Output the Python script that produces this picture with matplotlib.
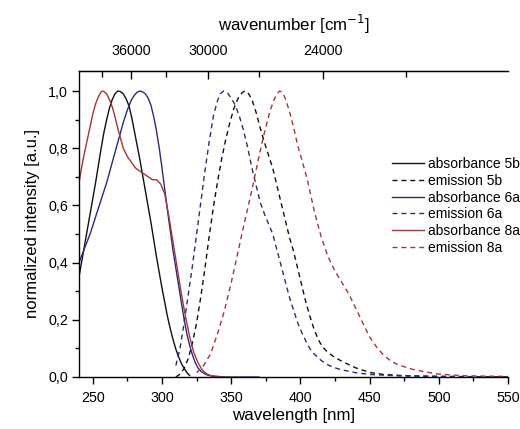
import matplotlib
matplotlib.use("Agg")
import matplotlib.pyplot as plt
from matplotlib.ticker import FixedLocator, MultipleLocator, FuncFormatter

plt.rcParams['font.family'] = ['Liberation Sans', 'DejaVu Sans']
plt.rcParams['lines.scale_dashes'] = False

# absorbance 5b (black solid)
abs5b_x = [240, 242, 244, 246, 248, 250, 252, 254, 256, 258, 260, 262, 264, 266, 268, 270, 272, 274, 276, 278, 280, 282, 284, 286, 288, 290, 292, 294, 296, 298, 300, 302, 304, 306, 308, 310, 312, 314, 316, 318, 320]
abs5b_y = [0.35, 0.405, 0.46, 0.515, 0.57, 0.625, 0.68, 0.74, 0.80, 0.855, 0.90, 0.94, 0.97, 0.99, 1.0, 0.998, 0.99, 0.973, 0.95, 0.91, 0.86, 0.81, 0.76, 0.705, 0.65, 0.595, 0.54, 0.48, 0.42, 0.365, 0.31, 0.26, 0.21, 0.168, 0.13, 0.097, 0.07, 0.047, 0.03, 0.015, 0.005]

# emission 5b (black dashed)
em5b_x = [310, 313, 316, 319, 322, 325, 328, 331, 334, 337, 340, 343, 346, 349, 352, 355, 358, 360, 362, 365, 368, 371, 374, 377, 380, 383, 386, 389, 392, 395, 398, 401, 404, 407, 410, 413, 416, 420, 425, 430, 435, 440, 450, 460, 470, 480, 500, 550]
em5b_y = [0.0, 0.01, 0.03, 0.065, 0.12, 0.19, 0.28, 0.38, 0.49, 0.59, 0.68, 0.76, 0.83, 0.89, 0.94, 0.975, 0.995, 1.0, 0.995, 0.97, 0.925, 0.87, 0.82, 0.775, 0.73, 0.67, 0.61, 0.55, 0.49, 0.44, 0.38, 0.32, 0.26, 0.21, 0.165, 0.13, 0.105, 0.085, 0.068, 0.055, 0.043, 0.032, 0.016, 0.009, 0.006, 0.004, 0.002, 0.0]

# absorbance 6a (blue solid)
abs6a_x = [240, 244, 248, 252, 256, 260, 264, 268, 272, 275, 278, 280, 282, 284, 286, 288, 290, 292, 294, 296, 298, 300, 302, 304, 306, 308, 310, 312, 314, 316, 318, 320, 322, 324, 326, 328, 332, 336, 345, 370]
abs6a_y = [0.40, 0.45, 0.50, 0.56, 0.62, 0.68, 0.75, 0.82, 0.89, 0.935, 0.97, 0.985, 0.996, 1.0, 0.997, 0.99, 0.975, 0.95, 0.91, 0.86, 0.80, 0.73, 0.655, 0.58, 0.51, 0.44, 0.38, 0.32, 0.26, 0.20, 0.15, 0.11, 0.077, 0.05, 0.032, 0.02, 0.008, 0.003, 0.0, 0.0]

# emission 6a (blue dashed)
em6a_x = [310, 313, 316, 319, 322, 325, 328, 331, 334, 337, 340, 342, 344.5, 347, 350, 353, 356, 359, 362, 365, 368, 371, 374, 377, 380, 383, 386, 389, 392, 395, 398, 401, 404, 407, 410, 415, 420, 425, 430, 440, 450, 470, 500, 550]
em6a_y = [0.04, 0.10, 0.19, 0.29, 0.39, 0.50, 0.61, 0.72, 0.82, 0.91, 0.965, 0.99, 1.0, 0.995, 0.975, 0.95, 0.91, 0.86, 0.80, 0.73, 0.67, 0.61, 0.57, 0.535, 0.50, 0.445, 0.39, 0.335, 0.28, 0.235, 0.19, 0.155, 0.125, 0.098, 0.08, 0.058, 0.042, 0.032, 0.025, 0.015, 0.009, 0.004, 0.002, 0.0]

# absorbance 8a (red solid)
abs8a_x = [240, 242, 244, 246, 248, 250, 252, 254, 256, 257, 258, 260, 262, 264, 266, 268, 270, 272, 275, 278, 281, 284, 287, 290, 293, 296, 299, 302, 305, 308, 311, 314, 317, 320, 323, 326, 329, 332, 335, 340, 345]
abs8a_y = [0.68, 0.735, 0.785, 0.83, 0.875, 0.92, 0.955, 0.98, 0.997, 1.0, 0.998, 0.99, 0.97, 0.945, 0.91, 0.87, 0.835, 0.80, 0.77, 0.75, 0.73, 0.72, 0.71, 0.70, 0.69, 0.69, 0.675, 0.64, 0.56, 0.47, 0.38, 0.29, 0.21, 0.14, 0.085, 0.05, 0.025, 0.012, 0.005, 0.002, 0.0]

# emission 8a (red dashed)
em8a_x = [325, 330, 335, 340, 345, 350, 355, 360, 365, 370, 374, 378, 381, 383, 385, 387, 389, 392, 395, 398, 401, 405, 410, 415, 420, 425, 430, 435, 440, 445, 450, 455, 460, 465, 470, 480, 490, 500, 520, 550]
em8a_y = [0.015, 0.04, 0.08, 0.15, 0.23, 0.33, 0.44, 0.55, 0.655, 0.77, 0.855, 0.93, 0.97, 0.99, 1.0, 0.995, 0.975, 0.93, 0.875, 0.81, 0.76, 0.69, 0.58, 0.49, 0.42, 0.37, 0.33, 0.29, 0.24, 0.19, 0.14, 0.105, 0.077, 0.057, 0.044, 0.028, 0.018, 0.01, 0.004, 0.002]

labels = ['absorbance 5b', 'emission 5b', 'absorbance 6a', 'emission 6a', 'absorbance 8a', 'emission 8a']
wn_major = [36000, 30000, 24000]
wn_minor = [39000, 33000, 27000, 21000]

black = '#111111'
blue = '#2b2b7d'
red = '#a5353a'
dash = (0, (3.6, 2.8))

fig = plt.figure(figsize=(5.2, 4.29), dpi=100)
ax = fig.add_axes([79/520, 1-377/429, (508-79)/520, (377-71)/429])

lw = 1.0
ax.plot(abs5b_x, abs5b_y, color=black, lw=lw, label=labels[0])
ax.plot(em5b_x, em5b_y, color=black, lw=lw, ls=dash, label=labels[1])
ax.plot(abs6a_x, abs6a_y, color=blue, lw=lw, label=labels[2])
ax.plot(em6a_x, em6a_y, color=blue, lw=lw, ls=dash, label=labels[3])
ax.plot(abs8a_x, abs8a_y, color=red, lw=lw, label=labels[4])
ax.plot(em8a_x, em8a_y, color=red, lw=lw, ls=dash, label=labels[5])

ax.set_xlim(240, 550)
ax.set_ylim(0, 1.07)
ax.xaxis.set_major_locator(MultipleLocator(50))
ax.xaxis.set_minor_locator(MultipleLocator(25))
ax.yaxis.set_major_locator(MultipleLocator(0.2))
ax.yaxis.set_minor_locator(MultipleLocator(0.1))
ax.yaxis.set_major_formatter(FuncFormatter(lambda v, p: f"{v:.1f}".replace('.', ',')))
ax.tick_params(axis='both', which='major', direction='out', length=5, width=1, labelsize=10.3, pad=3)
ax.tick_params(axis='x', which='major', pad=5)
ax.tick_params(axis='both', which='minor', direction='out', length=3, width=1)
ax.spines['right'].set_visible(False)
for s in ['left', 'bottom', 'top']:
    ax.spines[s].set_linewidth(1.0)

ax.set_xlabel('wavelength [nm]', fontsize=12.2, labelpad=2)
ax.set_ylabel('normalized intensity [a.u.]', fontsize=12, labelpad=6)

sec = ax.secondary_xaxis('top', functions=(lambda x: 1e7 / x, lambda x: 1e7 / x))
sec.xaxis.set_major_locator(FixedLocator(wn_major))
sec.xaxis.set_minor_locator(FixedLocator(wn_minor))
sec.xaxis.set_major_formatter(FuncFormatter(lambda v, p: f"{int(v)}"))
sec.tick_params(axis='x', which='major', direction='in', length=6, width=1, labelsize=10.3, pad=9)
sec.tick_params(axis='x', which='minor', direction='in', length=4, width=1)
sec.set_xlabel('wavenumber [cm$^{-1}$]', fontsize=12.2, labelpad=10)

ax.legend(loc='upper left', bbox_to_anchor=(392/520, 1-157/429), bbox_transform=fig.transFigure,
          frameon=False, fontsize=10, handlelength=2.3, handletextpad=0.3, labelspacing=0.2,
          borderpad=0, borderaxespad=0)

fig.savefig('out.png', dpi=100)
